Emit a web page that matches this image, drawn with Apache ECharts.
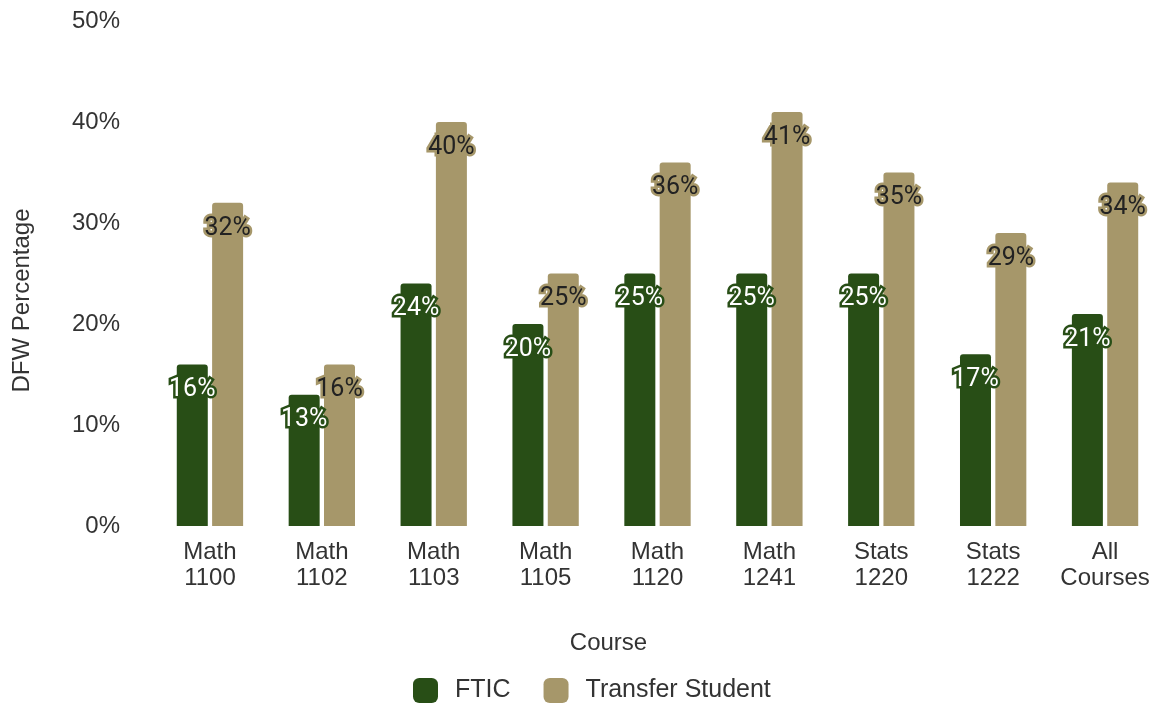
<!DOCTYPE html>
<html>
<head>
<meta charset="utf-8">
<script src="https://cdn.jsdelivr.net/npm/echarts@6/dist/echarts.min.js"></script>
<style>
  html, body { margin: 0; padding: 0; background: #fff; overflow: hidden; }
  #chart { width: 1161px; height: 705px; }
</style>
</head>
<body>
<div id="chart"></div>
<script>
const courses = ['Math\n1100', 'Math\n1102', 'Math\n1103', 'Math\n1105', 'Math\n1120', 'Math\n1241', 'Stats\n1220', 'Stats\n1222', 'All\nCourses'];
const ftic = [16, 13, 24, 20, 25, 25, 25, 17, 21];
const transfer = [32, 16, 40, 25, 36, 41, 35, 29, 34];

const GREEN = '#284e16';
const TAN = '#a6976a';
const font = '"Liberation Sans", Arial, sans-serif';

const chart = echarts.init(document.getElementById('chart'));

const barLabel = (textColor, borderColor) => ({
  show: true,
  position: 'insideTop',
  distance: 13,
  formatter: p => p.value + '%',
  fontFamily: 'Roboto, sans-serif',
  fontSize: 25,
  color: textColor,
  textBorderColor: borderColor,
  textBorderWidth: 5,
});

chart.setOption({
  animation: false,
  grid: { left: 154, right: 0, top: 21, bottom: 179, containLabel: false },
  legend: {
    left: 408,
    bottom: -3,
    itemWidth: 25,
    itemHeight: 25,
    itemGap: 33,
    icon: 'roundRect',
    textStyle: { fontFamily: font, fontSize: 25, color: '#333', padding: [0, 0, 0, 12] },
    data: ['FTIC', 'Transfer Student'],
  },
  xAxis: {
    type: 'category',
    data: courses,
    name: 'Course',
    nameLocation: 'middle',
    nameGap: 105,
    nameTextStyle: { fontFamily: font, fontSize: 24, color: '#333', padding: [0, 98, 0, 0] },
    axisLine: { show: false },
    axisTick: { show: false },
    axisLabel: { fontFamily: font, fontSize: 24, color: '#333', lineHeight: 26, margin: 13, interval: 0 },
  },
  yAxis: {
    type: 'value',
    min: 0,
    max: 50,
    interval: 10,
    name: 'DFW Percentage',
    nameLocation: 'middle',
    nameGap: 120,
    nameTextStyle: { fontFamily: font, fontSize: 24, color: '#333', padding: [0, 54, 0, 0] },
    axisLine: { show: false },
    axisTick: { show: false },
    splitLine: { show: false },
    axisLabel: { fontFamily: font, fontSize: 24, color: '#333', margin: 34, formatter: '{value}%' },
  },
  series: [
    {
      name: 'FTIC',
      type: 'bar',
      data: ftic,
      barWidth: 31,
      barGap: '14%',
      itemStyle: { color: GREEN, borderRadius: [3, 3, 0, 0] },
      label: barLabel('#ffffff', GREEN),
    },
    {
      name: 'Transfer Student',
      type: 'bar',
      data: transfer,
      barWidth: 31,
      barGap: '14%',
      itemStyle: { color: TAN, borderRadius: [3, 3, 0, 0] },
      label: barLabel('#222222', TAN),
    },
  ],
});
</script>
</body>
</html>
